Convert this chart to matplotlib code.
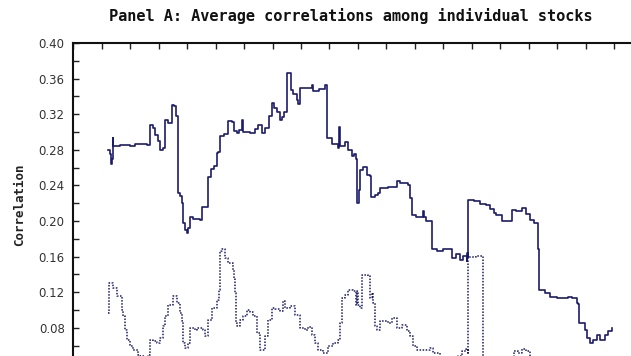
import matplotlib
matplotlib.use("Agg")
import matplotlib.pyplot as plt
from matplotlib.ticker import MultipleLocator

# Time axis in years from the start of the window; one tick per year
stocks_t = [1.239, 1.298, 1.333, 1.368, 1.393, 1.414, 1.649, 1.825, 2.000, 2.175,
            2.351, 2.526, 2.596, 2.649, 2.702, 2.807, 2.877, 2.982, 3.053, 3.158,
            3.228, 3.333, 3.463, 3.544, 3.614, 3.667, 3.684, 3.754, 3.814, 3.860,
            3.930, 3.989, 4.035, 4.105, 4.211, 4.456, 4.516, 4.632, 4.737, 4.842,
            4.947, 5.042, 5.088, 5.158, 5.298, 5.439, 5.579, 5.649, 5.744, 5.825,
            5.919, 5.965, 6.211, 6.386, 6.491, 6.621, 6.737, 6.877, 6.972, 7.053,
            7.158, 7.263, 7.333, 7.404, 7.498, 7.596, 7.632, 7.719, 7.849, 7.905,
            7.965, 8.175, 8.375, 8.432, 8.632, 8.842, 8.902, 8.923, 9.088, 9.309,
            9.344, 9.379, 9.544, 9.649, 9.779, 9.860, 9.930, 9.975, 10.018, 10.070,
            10.175, 10.305, 10.421, 10.446, 10.596, 10.712, 10.772, 11.053, 11.358, 11.474,
            11.765, 11.825, 11.884, 12.035, 12.270, 12.316, 12.386, 12.579, 12.611, 12.772,
            12.982, 13.193, 13.298, 13.439, 13.579, 13.684, 13.814, 13.835, 13.870, 13.877,
            14.070, 14.281, 14.491, 14.632, 14.772, 14.842, 15.053, 15.263, 15.404, 15.544,
            15.754, 15.895, 16.035, 16.175, 16.281, 16.316, 16.351, 16.561, 16.737, 16.972,
            17.158, 17.379, 17.509, 17.674, 17.737, 17.765, 17.965, 18.025, 18.140, 18.256,
            18.375, 18.491, 18.667, 18.782, 18.902]
stocks_corr = [0.280, 0.275, 0.264, 0.270, 0.293, 0.284, 0.285, 0.2855, 0.284, 0.287,
               0.286, 0.2865, 0.2855, 0.2855, 0.308, 0.304, 0.297, 0.290, 0.280, 0.282,
               0.313, 0.310, 0.330, 0.329, 0.318, 0.310, 0.232, 0.228, 0.220, 0.198,
               0.190, 0.187, 0.192, 0.205, 0.202, 0.201, 0.216, 0.216, 0.250, 0.258,
               0.262, 0.2765, 0.278, 0.295, 0.298, 0.312, 0.311, 0.301, 0.299, 0.302,
               0.3135, 0.300, 0.299, 0.303, 0.308, 0.299, 0.304, 0.318, 0.333, 0.327,
               0.322, 0.3135, 0.317, 0.323, 0.366, 0.366, 0.347, 0.343, 0.336, 0.332,
               0.349, 0.350, 0.353, 0.346, 0.348, 0.353, 0.340, 0.293, 0.287, 0.282,
               0.306, 0.284, 0.289, 0.280, 0.2725, 0.275, 0.270, 0.220, 0.235, 0.2575,
               0.261, 0.252, 0.251, 0.2275, 0.229, 0.231, 0.237, 0.238, 0.2445, 0.243,
               0.241, 0.2255, 0.207, 0.205, 0.211, 0.205, 0.1995, 0.1995, 0.169, 0.166,
               0.168, 0.168, 0.158, 0.163, 0.1565, 0.161, 0.1545, 0.164, 0.160, 0.224,
               0.222, 0.219, 0.218, 0.213, 0.209, 0.207, 0.1995, 0.1995, 0.2125, 0.211,
               0.215, 0.208, 0.2015, 0.198, 0.1975, 0.168, 0.122, 0.119, 0.115, 0.1135,
               0.114, 0.115, 0.113, 0.108, 0.107, 0.0855, 0.078, 0.0685, 0.063, 0.0667,
               0.0722, 0.0667, 0.072, 0.076, 0.080]

second_t = [1.228, 1.246, 1.358, 1.414, 1.533, 1.709, 1.765, 1.825, 1.884, 2.000,
            2.116, 2.291, 2.351, 2.526, 2.642, 2.702, 2.818, 2.937, 3.053, 3.168,
            3.228, 3.344, 3.519, 3.638, 3.754, 3.814, 3.870, 3.930, 4.046, 4.105,
            4.221, 4.281, 4.340, 4.456, 4.572, 4.632, 4.747, 4.867, 5.042, 5.133,
            5.158, 5.218, 5.333, 5.449, 5.625, 5.649, 5.684, 5.719, 5.765, 5.860,
            5.975, 6.095, 6.211, 6.326, 6.446, 6.561, 6.621, 6.737, 6.853, 6.972,
            7.088, 7.263, 7.379, 7.439, 7.614, 7.789, 7.965, 8.140, 8.256, 8.375,
            8.491, 8.607, 8.782, 8.958, 9.133, 9.309, 9.368, 9.428, 9.544, 9.660,
            9.835, 9.930, 9.975, 10.011, 10.070, 10.130, 10.246, 10.361, 10.421, 10.481,
            10.537, 10.596, 10.656, 10.772, 10.947, 11.063, 11.183, 11.358, 11.533, 11.709,
            11.825, 11.940, 12.060, 12.291, 12.526, 12.642, 12.877, 13.228, 13.509, 13.649,
            13.789, 13.866, 13.874, 14.140, 14.371, 14.379, 14.632, 14.983, 15.333, 15.474,
            15.614, 15.754, 15.895, 16.035, 16.386, 16.912, 17.439, 18.140, 18.902]
second_corr = [0.097, 0.130, 0.130, 0.125, 0.1153, 0.100, 0.093, 0.078, 0.0667, 0.0592,
               0.055, 0.050, 0.048, 0.047, 0.050, 0.0667, 0.065, 0.063, 0.068, 0.0816,
               0.093, 0.106, 0.1153, 0.108, 0.0966, 0.088, 0.063, 0.0575, 0.063, 0.0798,
               0.080, 0.077, 0.080, 0.080, 0.078, 0.0704, 0.089, 0.1023, 0.1116, 0.1228,
               0.166, 0.168, 0.1585, 0.153, 0.145, 0.135, 0.119, 0.0854, 0.0816, 0.089,
               0.093, 0.100, 0.098, 0.093, 0.074, 0.0555, 0.0555, 0.0704, 0.089, 0.102,
               0.101, 0.099, 0.1097, 0.102, 0.104, 0.0947, 0.080, 0.078, 0.081, 0.0723,
               0.063, 0.0555, 0.052, 0.059, 0.063, 0.0667, 0.0854, 0.1135, 0.117, 0.1228,
               0.121, 0.106, 0.121, 0.106, 0.102, 0.1396, 0.1396, 0.1378, 0.1135, 0.119,
               0.108, 0.0816, 0.078, 0.0872, 0.088, 0.085, 0.091, 0.080, 0.083, 0.076,
               0.0704, 0.059, 0.0555, 0.0555, 0.057, 0.052, 0.047, 0.045, 0.048, 0.054,
               0.056, 0.052, 0.160, 0.161, 0.160, 0.045, 0.040, 0.042, 0.047, 0.054,
               0.052, 0.056, 0.054, 0.045, 0.038, 0.036, 0.035, 0.033, 0.034]

y_ticks = [0.08, 0.12, 0.16, 0.20, 0.24, 0.28, 0.32, 0.36, 0.40]
title = "Panel A: Average correlations among individual stocks"
ylabel = "Correlation"

navy = "#1b1b6b"

fig = plt.figure(figsize=(6.31, 3.56), dpi=100)
# The axes run below the lower edge of the canvas, so only the upper part shows
ax = fig.add_axes([0.1157, -0.1208, 0.9033, 1.0])

ax.plot(stocks_t, stocks_corr, color=navy, lw=1.2, drawstyle="steps-post")
ax.plot(second_t, second_corr, color=navy, lw=1.1, linestyle=(0, (1, 1)),
        drawstyle="steps-post")

ax.set_xlim(0, 20)
ax.set_ylim(0.0, 0.40)

ax.xaxis.set_major_locator(MultipleLocator(1))
ax.yaxis.set_minor_locator(MultipleLocator(0.02))
ax.set_yticks(y_ticks)
ax.set_yticklabels([f"{v:.2f}" for v in y_ticks])

ax.tick_params(axis="x", which="both", direction="in", top=True, bottom=False,
               labeltop=False, labelbottom=False, length=4, width=1.0, color="#222222")
ax.tick_params(axis="y", which="both", direction="in", left=True, right=False,
               length=4, width=1.0, color="#222222")
ax.tick_params(axis="y", which="major", labelsize=8.5, labelcolor="#333333", pad=6)

for side in ("top", "left"):
    ax.spines[side].set_linewidth(1.5)
    ax.spines[side].set_color("#111111")
for side in ("right", "bottom"):
    ax.spines[side].set_visible(False)

fig.text(0.5555, 1 - 16 / 356, title, ha="center", va="center",
         fontsize=11, fontweight="bold", family="DejaVu Sans Mono", color="#111111")
fig.text(20 / 631, 1 - 205 / 356, ylabel, ha="center", va="center", rotation=90,
         fontsize=9, fontweight="bold", family="DejaVu Sans Mono", color="#222222")

fig.savefig("out.png", dpi=100)
